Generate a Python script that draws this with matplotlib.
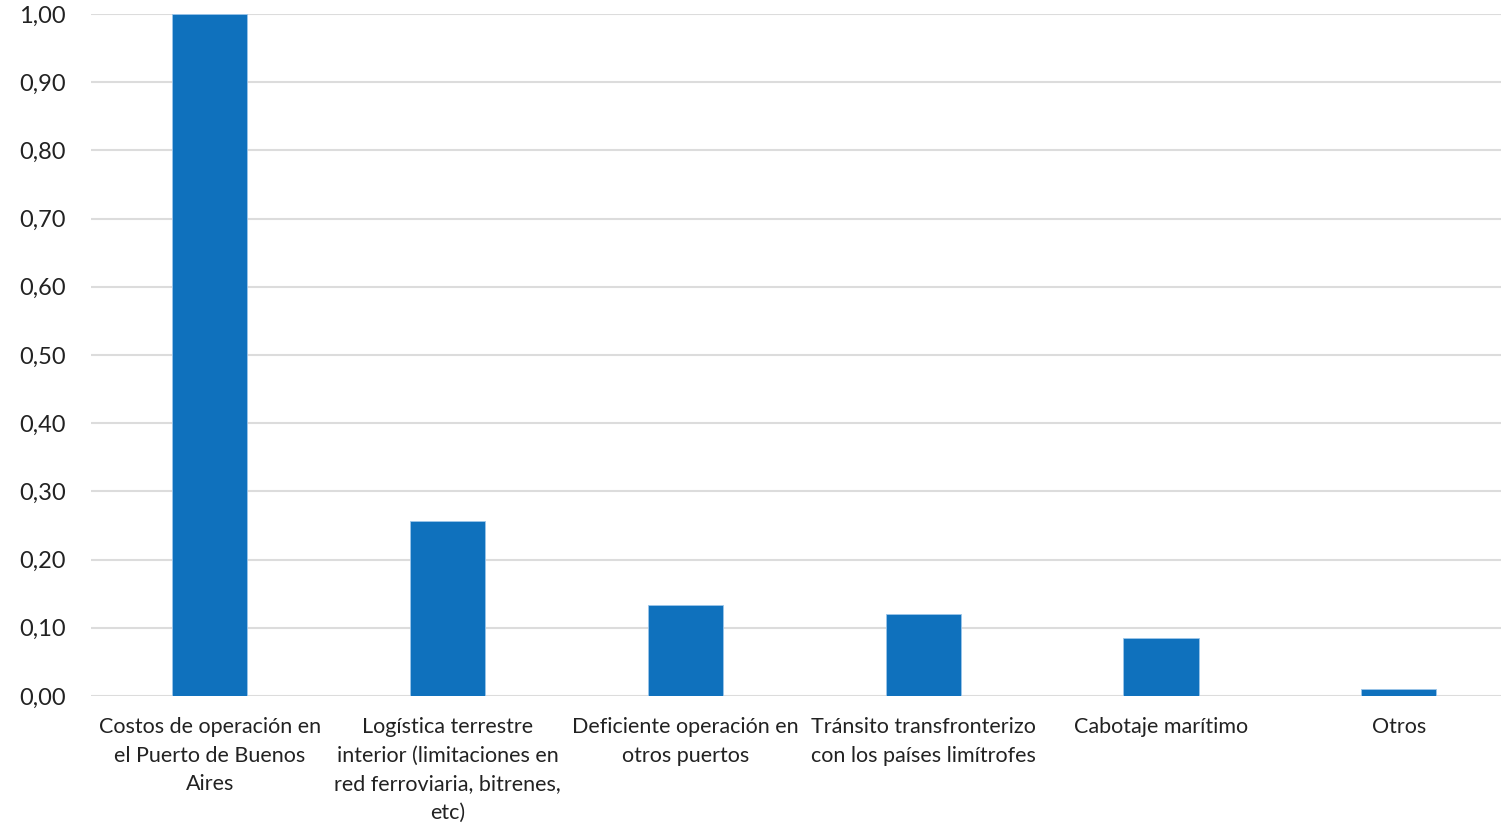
import matplotlib as mpl
mpl.use('Agg')
import matplotlib.pyplot as plt
import numpy as np

plt.rcParams['font.family'] = ['Lato', 'DejaVu Sans']

categories = ["Costos de operación en\nel Puerto de Buenos\nAires",
              "Logística terrestre\ninterior (limitaciones en\nred ferroviaria, bitrenes,\netc)",
              "Deficiente operación en\notros puertos",
              "Tránsito transfronterizo\ncon los países limítrofes",
              "Cabotaje marítimo",
              "Otros"]
values = [1.00, 0.257, 0.134, 0.121, 0.085, 0.011]
yticks = [0.0, 0.1, 0.2, 0.3, 0.4, 0.5, 0.6, 0.7, 0.8, 0.9, 1.0]

fig = plt.figure(figsize=(15.01, 8.24), dpi=100)
ax = fig.add_axes([0.0605, 0.1553, 0.9395, 0.8277])

x = np.arange(len(categories))
ax.bar(x, values, width=0.316, color='#0F71BD', edgecolor='#9cc6ea', linewidth=0.6, zorder=3)

ax.set_xlim(-0.5, 5.43)
ax.set_ylim(0, 1.0)
ax.set_yticks(yticks)
ax.set_yticklabels([f"{v:.2f}".replace('.', ',') for v in yticks], fontsize=17, color='#222222')
ax.set_xticks(x)
ax.set_xticklabels(categories, fontsize=15.5, color='#222222', linespacing=1.55)
ax.tick_params(axis='both', length=0)
ax.tick_params(axis='y', pad=18)
ax.tick_params(axis='x', pad=15)
ax.grid(axis='y', color='#dcdcdc', linewidth=1.5, zorder=0)
for s in ax.spines.values():
    s.set_visible(False)

fig.savefig('out.png', dpi=100)
